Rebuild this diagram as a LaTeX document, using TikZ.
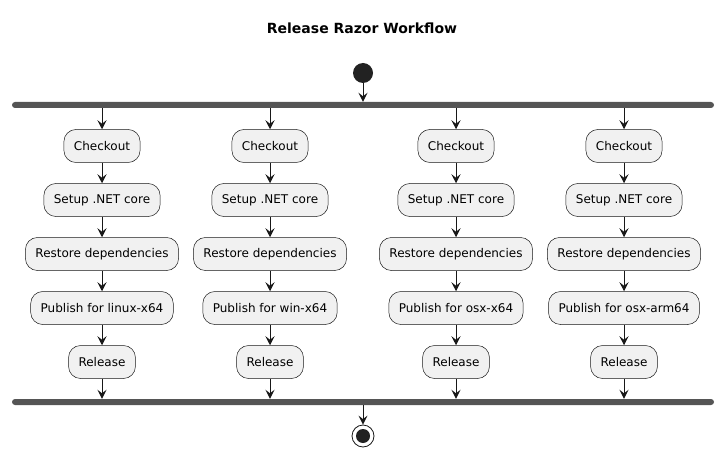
\documentclass[tikz,border=0pt]{standalone}
\usepackage{fontspec}
\setmainfont{DejaVu Sans}
\usetikzlibrary{arrows.meta}
\definecolor{actfill}{HTML}{F1F1F1}
\definecolor{actline}{HTML}{181818}
\definecolor{barcol}{HTML}{555555}
\definecolor{dotcol}{HTML}{222222}
\begin{document}
\begin{tikzpicture}[x=1pt,y=-1pt,
  act/.style={draw=actline,fill=actfill,line width=0.5pt,rounded corners=12pt,
    minimum height=33pt,inner xsep=10pt,font=\fontsize{12}{14}\selectfont},
  bar/.style={fill=barcol,rounded corners=3pt,minimum width=702pt,minimum height=6pt,inner sep=0pt},
  flow/.style={draw=actline,line width=1pt,-{Stealth[length=9pt,width=9pt,inset=3.5pt]}}]
\useasboundingbox (0,0) rectangle (725,457);
\node[font=\bfseries\fontsize{14}{16}\selectfont] (title) at (362,28) {Release Razor Workflow};
\node[circle,fill=dotcol,minimum size=20pt,inner sep=0pt] (start) at (363,73) {};
\node[bar] (fork) at (363,105) {};
\node[bar] (join) at (363,402) {};
\node[circle,draw=actline,line width=0.8pt,fill=white,minimum size=22pt,inner sep=0pt] (stop) at (363,436) {};
\fill[dotcol] (stop.center) circle (7pt);
\draw[flow] (start) -- (fork);
\draw[flow] (join) -- (stop);
\foreach \i/\x/\os in {1/102/linux-x64,2/270/win-x64,3/456/osx-x64,4/624/osx-arm64}{
  \node[act] (a\i) at (\x,146) {Checkout};
  \node[act] (b\i) at (\x,200) {Setup .NET core};
  \node[act] (c\i) at (\x,254) {Restore dependencies};
  \node[act] (d\i) at (\x,308) {Publish for \os};
  \node[act] (e\i) at (\x,362) {Release};
  \draw[flow] (fork.south -| a\i) -- (a\i);
  \draw[flow] (a\i) -- (b\i);
  \draw[flow] (b\i) -- (c\i);
  \draw[flow] (c\i) -- (d\i);
  \draw[flow] (d\i) -- (e\i);
  \draw[flow] (e\i) -- (join.north -| e\i);
}
\end{tikzpicture}
\end{document}
